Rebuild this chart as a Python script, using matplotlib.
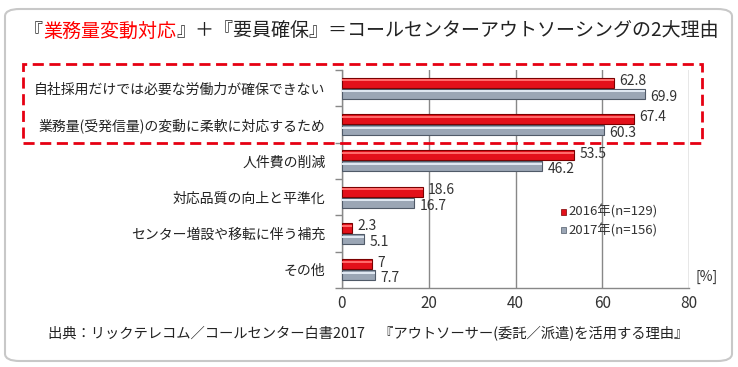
import matplotlib
matplotlib.use("Agg")
import matplotlib.pyplot as plt
from matplotlib.patches import FancyBboxPatch, Rectangle
import numpy as np

plt.rcParams['font.family'] = ['Noto Sans CJK JP', 'DejaVu Sans']

categories = ["自社採用だけでは必要な労働力が確保できない",
              "業務量(受発信量)の変動に柔軟に対応するため",
              "人件費の削減",
              "対応品質の向上と平準化",
              "センター増設や移転に伴う補充",
              "その他"]
values_2016 = [62.8, 67.4, 53.5, 18.6, 2.3, 7]
values_2017 = [69.9, 60.3, 46.2, 16.7, 5.1, 7.7]
labels_2016 = ["62.8", "67.4", "53.5", "18.6", "2.3", "7"]
labels_2017 = ["69.9", "60.3", "46.2", "16.7", "5.1", "7.7"]
legend_labels = ["2016年(n=129)", "2017年(n=156)"]
xticks = [0, 20, 40, 60, 80]

W, H = 738, 367
fig = plt.figure(figsize=(W/100, H/100), dpi=100)

# rounded outer border
fig.patches.append(FancyBboxPatch((5/W, 6/H), 727/W, 352/H,
                                  boxstyle="round,pad=0,rounding_size=0.02",
                                  transform=fig.transFigure, fill=False,
                                  edgecolor='#c8c8c8', linewidth=1.5))

ax = fig.add_axes([342/W, 1-288/H, 347/W, 218/H])
y = np.arange(len(categories))
h = 0.28
off = 0.15
red = '#e3101a'
gray = '#9ba6b5'
ax.barh(y - off, values_2016, height=h, color=red, edgecolor='#7a0000', linewidth=0.8, zorder=3)
ax.barh(y + off, values_2017, height=h, color=gray, edgecolor='#505a68', linewidth=0.8, zorder=3)
# highlight strips for glossy look
ax.barh(y - off - h*0.22, values_2016, height=h*0.2, color='#ff6a6a', linewidth=0, zorder=4)
ax.barh(y + off - h*0.22, values_2017, height=h*0.2, color='#dfe7f1', linewidth=0, zorder=4)

for i in range(len(categories)):
    ax.text(values_2016[i] + 1.2, y[i] - off - 0.05, labels_2016[i], fontsize=10,
            color='#333333', va='center', ha='left', zorder=5)
    ax.text(values_2017[i] + 1.2, y[i] + off + 0.08, labels_2017[i], fontsize=10,
            color='#333333', va='center', ha='left', zorder=5)

ax.set_xlim(0, 80)
ax.set_ylim(len(categories) - 0.5, -0.5)
ax.set_xticks(xticks)
ax.set_xticklabels([str(t) for t in xticks], fontsize=11, color='#333333')
ax.set_yticks(y)
ax.set_yticklabels(categories, fontsize=10, color='#222222')
ax.set_yticks(np.arange(-0.5, len(categories), 1), minor=True)
ax.tick_params(axis='y', which='major', length=0, pad=12)
ax.tick_params(axis='y', which='minor', length=5, color='#888888', width=1)
ax.tick_params(axis='x', length=0, pad=5)
ax.grid(axis='x', color='#888888', linewidth=1, zorder=0)
for s in ['top', 'right']:
    ax.spines[s].set_visible(False)
for s in ['left', 'bottom']:
    ax.spines[s].set_color('#888888')
    ax.spines[s].set_linewidth(1)

ax.text(1.02, 0.05, "[%]", transform=ax.transAxes, fontsize=10, color='#333333',
        ha='left', va='center')

# legend
fig.patches.append(Rectangle((561/W, 1-215/H), 5/W, 6/H, transform=fig.transFigure,
                             facecolor=red, edgecolor='#7a0000', linewidth=0.5, zorder=6))
fig.patches.append(Rectangle((561/W, 1-233/H), 5/W, 6/H, transform=fig.transFigure,
                             facecolor=gray, edgecolor='#505a68', linewidth=0.5, zorder=6))
fig.text(568/W, 1-212/H, legend_labels[0], fontsize=9.5, color='#333333', va='center')
fig.text(568/W, 1-230/H, legend_labels[1], fontsize=9.5, color='#333333', va='center')

# red dashed highlight box
fig.patches.append(Rectangle((23/W, 1-143/H), 679/W, 79/H, transform=fig.transFigure,
                             fill=False, edgecolor='#e60012', linestyle=(0, (4, 2)),
                             linewidth=2, zorder=7))

# title
t1 = fig.text(24/W, 1-31/H, "『", fontsize=13.7, color='#222222', va='center', ha='left')
t2 = ax.annotate("業務量変動対応", xy=(1, 0), xycoords=t1, xytext=(0, 0),
                 textcoords='offset points', fontsize=13.7, color='#ff0000',
                 va='bottom', ha='left', annotation_clip=False)
t3 = ax.annotate("』＋『要員確保』＝コールセンターアウトソーシングの2大理由", xy=(1, 0),
                 xycoords=t2, xytext=(0, 0), textcoords='offset points', fontsize=13.7,
                 color='#222222', va='bottom', ha='left', annotation_clip=False)

fig.text(368/W, 1-334/H,
         "出典：リックテレコム／コールセンター白書2017　『アウトソーサー(委託／派遣)を活用する理由』",
         fontsize=10.3, color='#222222', ha='center', va='center')

fig.savefig("out.png", dpi=100)
